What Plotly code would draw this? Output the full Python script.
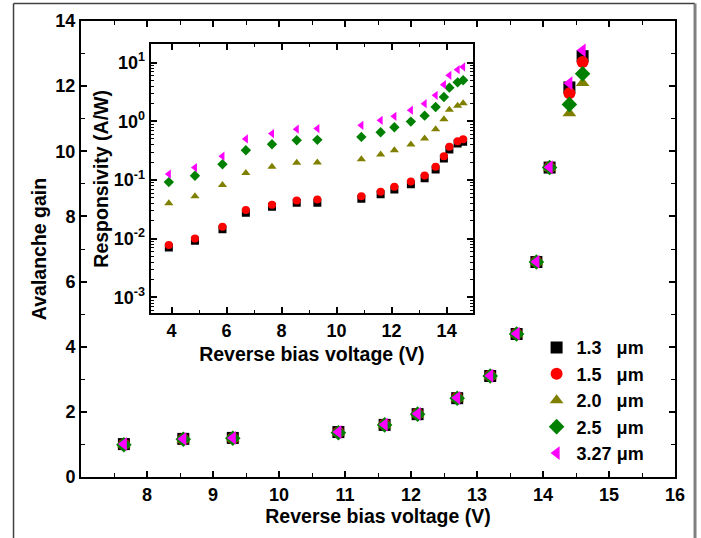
import plotly.graph_objects as go

# ---------------- data ----------------
voltage = [3.9, 4.85, 5.85, 6.7, 7.65, 8.55, 9.3, 10.9, 11.6, 12.1, 12.7,
           13.2, 13.6, 13.9, 14.1, 14.4, 14.6]
gain_voltage = [7.65, 8.55, 9.3, 10.9, 11.6, 12.1, 12.7, 13.2, 13.6, 13.9,
                14.1, 14.4, 14.6]

gain_13 = [1.01, 1.17, 1.20, 1.38, 1.60, 1.93, 2.42, 3.10, 4.39, 6.60, 9.50, 11.96, 12.92]
gain_15 = [1.00, 1.16, 1.19, 1.37, 1.61, 1.94, 2.43, 3.11, 4.40, 6.61, 9.51, 11.78, 12.74]
gain_20 = [1.00, 1.15, 1.18, 1.36, 1.59, 1.92, 2.41, 3.09, 4.38, 6.59, 9.49, 11.17, 12.10]
gain_25 = [0.99, 1.16, 1.19, 1.36, 1.60, 1.93, 2.42, 3.10, 4.39, 6.60, 9.50, 11.44, 12.38]
gain_327 = [1.01, 1.17, 1.20, 1.38, 1.61, 1.94, 2.43, 3.11, 4.40, 6.61, 9.51, 12.09, 13.10]

resp_13 = [0.0071, 0.0092, 0.0144, 0.0276, 0.035, 0.041, 0.041, 0.048, 0.057, 0.069,
           0.085, 0.107, 0.151, 0.232, 0.33, 0.418, 0.447]
resp_15 = [0.0078, 0.0101, 0.016, 0.0307, 0.038, 0.0448, 0.0466, 0.053, 0.063, 0.0766,
           0.094, 0.119, 0.168, 0.255, 0.367, 0.458, 0.496]
resp_20 = [0.040, 0.053, 0.082, 0.132, 0.168, 0.196, 0.199, 0.226, 0.272, 0.322,
           0.402, 0.508, 0.733, 1.08, 1.58, 1.85, 2.03]
resp_25 = [0.092, 0.118, 0.186, 0.322, 0.407, 0.476, 0.483, 0.543, 0.652, 0.793,
           0.99, 1.25, 1.76, 2.6, 3.75, 4.62, 5.0]
resp_327 = [0.126, 0.163, 0.255, 0.502, 0.618, 0.733, 0.753, 0.857, 1.04, 1.22,
            1.55, 2.0, 2.78, 4.22, 6.08, 7.6, 8.44]

series_names = ["1.3\u00a0\u00a0\u00a0\u03bcm", "1.5\u00a0\u00a0\u00a0\u03bcm",
                "2.0\u00a0\u00a0\u00a0\u03bcm", "2.5\u00a0\u00a0\u00a0\u03bcm",
                "3.27\u00a0\u03bcm"]
gains = [gain_13, gain_15, gain_20, gain_25, gain_327]
resps = [resp_13, resp_15, resp_20, resp_25, resp_327]
colors = ["#000000", "#ff0000", "#808000", "#008000", "#ff00ff"]
symbols = ["square", "circle", "triangle-up", "diamond", "triangle-left"]

inset_yticks = [1e-3, 1e-2, 1e-1, 1e0, 1e1]
inset_yticktext = ["10<sup>-3</sup>", "10<sup>-2</sup>", "10<sup>-1</sup>",
                   "10<sup>0</sup>", "10<sup>1</sup>"]

FONT = "Liberation Sans, Arial, sans-serif"

fig = go.Figure()

for name, g, c, s in zip(series_names, gains, colors, symbols):
    fig.add_trace(go.Scatter(
        x=gain_voltage, y=g, mode="markers", name=name,
        marker=dict(symbol=s, color=c, size=12, line=dict(width=0)),
        xaxis="x", yaxis="y"))

for name, r, c, s in zip(series_names, resps, colors, symbols):
    fig.add_trace(go.Scatter(
        x=voltage, y=r, mode="markers", name=name,
        showlegend=False,
        marker=dict(symbol=s, color=c, size=8, line=dict(width=0)),
        xaxis="x2", yaxis="y2"))

tickfont = dict(family=FONT, size=18, color="black", weight="bold")
titlefont = dict(family=FONT, size=19.5, color="black", weight="bold")

axis_common = dict(showline=True, linecolor="black", linewidth=2, mirror="ticks",
                   ticks="inside", ticklen=6, tickwidth=1.5, tickcolor="black",
                   showgrid=False, zeroline=False, tickfont=tickfont,
                   automargin=False)

fig.update_layout(
    width=701, height=538,
    margin=dict(l=81, r=26, t=21, b=61),
    paper_bgcolor="white", plot_bgcolor="white",
    font=dict(family=FONT, color="black"),
    showlegend=True,
    legend=dict(x=0.767, y=0.324, xanchor="left", yanchor="top",
                bgcolor="rgba(0,0,0,0)", font=dict(family=FONT, size=18,
                                                   color="black", weight="bold"),
                itemwidth=30),
    xaxis=dict(range=[7, 16], tickvals=[8, 9, 10, 11, 12, 13, 14, 15, 16],
               minor=dict(dtick=0.5, tick0=7, ticks="inside", ticklen=4,
                          tickwidth=1.2, tickcolor="black"),
               title=dict(text="Reverse bias voltage (V)", font=titlefont, standoff=5),
               **axis_common),
    yaxis=dict(range=[0, 14], dtick=2, tick0=0,
               minor=dict(dtick=1, ticks="inside", ticklen=4, tickwidth=1.2,
                          tickcolor="black"),
               title=dict(text="Avalanche gain", font=titlefont, standoff=4),
               **axis_common),
    xaxis2=dict(domain=[0.1173, 0.66], anchor="y2", range=[3.24, 14.96],
                tickvals=[4, 6, 8, 10, 12, 14],
                minor=dict(dtick=1, tick0=3, ticks="inside", ticklen=3,
                           tickwidth=1.2, tickcolor="black"),
                title=dict(text="Reverse bias voltage (V)", font=titlefont, standoff=8),
                **axis_common),
    yaxis2=dict(domain=[0.3593, 0.9485], anchor="x2", type="log",
                range=[-3.27, 1.31], tickvals=inset_yticks, ticktext=inset_yticktext,
                minor=dict(dtick="D1", ticks="inside", ticklen=3, tickwidth=1,
                           tickcolor="black"),
                title=dict(text="Responsivity (A/W)", font=titlefont, standoff=0),
                **axis_common),
    shapes=[
        dict(type="line", xref="paper", yref="paper", x0=-0.1136, x1=1.0337,
             y0=1.0384, y1=1.0384, line=dict(color="#404040", width=1.5)),
        dict(type="line", xref="paper", yref="paper", x0=-0.1136, x1=-0.1136,
             y0=1.0384, y1=-0.2, line=dict(color="#404040", width=1.5)),
        dict(type="line", xref="paper", yref="paper", x0=1.0337, x1=1.0337,
             y0=1.0384, y1=-0.2, line=dict(color="#808080", width=3)),
    ],
)

fig.write_html("out.html")
